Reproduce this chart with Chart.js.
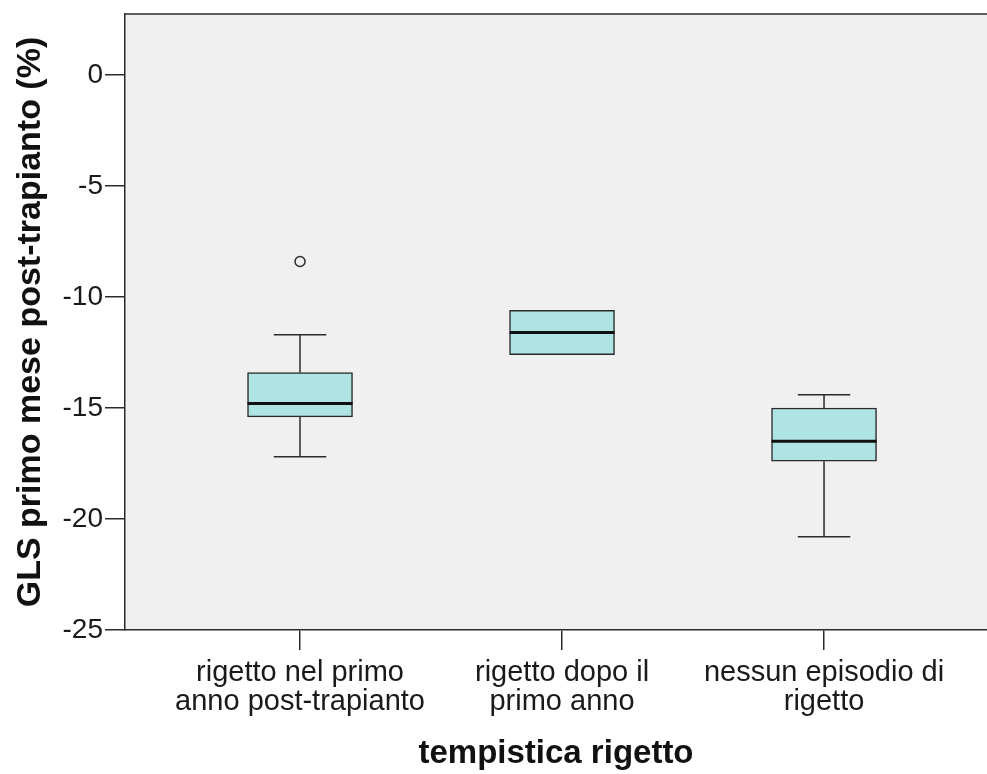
<!DOCTYPE html>
<html>
<head>
<meta charset="utf-8">
<script src="https://cdn.jsdelivr.net/npm/chart.js@4"></script>
<style>
  html, body { margin: 0; padding: 0; background: #fff; overflow: hidden; }
  #wrap { width: 987px; height: 774px; }
</style>
</head>
<body>
<div id="wrap"><canvas id="boxChart" width="987" height="774"></canvas></div>
<script>
  // categories (x positions 1..3) and their two-line tick labels
  const groups = [1, 2, 3];
  const groupLabels = [
    ['rigetto nel primo', 'anno post-trapianto'],
    ['rigetto dopo il', 'primo anno'],
    ['nessun episodio di', 'rigetto']
  ];

  // box plot stats (GLS %)
  const whiskerLow  = [-17.2, -12.6, -20.8];
  const q1          = [-15.4, -12.6, -17.4];
  const median      = [-14.8, -11.6, -16.5];
  const q3          = [-13.4, -10.6, -15.0];
  const whiskerHigh = [-11.7, -10.6, -14.4];

  const outlierGroup = [1];
  const outlierValue = [-8.4];

  const yTicks = [0, -5, -10, -15, -20, -25];

  const FONT = "'Liberation Sans', Arial, sans-serif";
  const INK = '#2b2b2b';
  const BOX_W = 105;

  const plotBackground = {
    id: 'plotBackground',
    beforeDraw(chart) {
      const { ctx, chartArea: a } = chart;
      ctx.save();
      ctx.fillStyle = '#f0f0f0';
      ctx.fillRect(a.left, a.top, a.right - a.left, a.bottom - a.top);
      ctx.restore();
    },
    afterDraw(chart) {
      const { ctx, chartArea: a } = chart;
      ctx.save();
      ctx.strokeStyle = INK;
      ctx.lineWidth = 1.5;
      ctx.beginPath();
      ctx.moveTo(a.left, a.top);
      ctx.lineTo(a.right, a.top);
      ctx.stroke();
      ctx.restore();
    }
  };

  // whiskers, caps and median line
  const boxExtras = {
    id: 'boxExtras',
    afterDatasetsDraw(chart) {
      const { ctx, scales: { x, y } } = chart;
      ctx.save();
      ctx.strokeStyle = INK;
      ctx.lineWidth = 1.5;
      groups.forEach((g, i) => {
        const cx = x.getPixelForValue(g);
        const cap = BOX_W / 4;
        const segs = [[whiskerHigh[i], q3[i]], [whiskerLow[i], q1[i]]];
        segs.forEach(([w, edge]) => {
          if (w === edge) return;
          const wy = y.getPixelForValue(w);
          ctx.beginPath();
          ctx.moveTo(cx, wy);
          ctx.lineTo(cx, y.getPixelForValue(edge));
          ctx.moveTo(cx - cap, wy);
          ctx.lineTo(cx + cap, wy);
          ctx.stroke();
        });
      });
      ctx.strokeStyle = '#111';
      ctx.lineWidth = 3;
      groups.forEach((g, i) => {
        const cx = x.getPixelForValue(g);
        const my = y.getPixelForValue(median[i]);
        ctx.beginPath();
        ctx.moveTo(cx - BOX_W / 2, my);
        ctx.lineTo(cx + BOX_W / 2, my);
        ctx.stroke();
      });
      ctx.restore();
    }
  };

  new Chart(document.getElementById('boxChart'), {
    type: 'bar',
    data: {
      datasets: [
        {
          label: 'box',
          data: groups.map((g, i) => ({ x: g, y: [q1[i], q3[i]] })),
          backgroundColor: '#afe4e4',
          borderColor: INK,
          borderWidth: 1.5,
          borderSkipped: false,
          barThickness: BOX_W
        },
        {
          type: 'scatter',
          label: 'outliers',
          data: outlierGroup.map((g, i) => ({ x: g, y: outlierValue[i] })),
          pointStyle: 'circle',
          pointRadius: 5,
          borderColor: INK,
          borderWidth: 1.5,
          backgroundColor: 'rgba(0,0,0,0)'
        }
      ]
    },
    options: {
      responsive: false,
      animation: false,
      layout: { autoPadding: false, padding: { top: 14, right: 0, bottom: 0, left: 0 } },
      plugins: {
        legend: { display: false },
        tooltip: { enabled: false }
      },
      scales: {
        x: {
          type: 'linear',
          offset: false,
          min: 0.332,
          max: 3.622,
          afterBuildTicks(scale) {
            scale.ticks = groups.map(v => ({ value: v }));
          },
          afterFit(scale) {
            scale.height = 144;
            scale.paddingLeft = 0;
            scale.paddingRight = 0;
          },
          grid: {
            offset: false,
            drawOnChartArea: false,
            drawTicks: true,
            tickLength: 20,
            color: INK,
            lineWidth: 1.5
          },
          border: { display: true, color: INK, width: 1.5 },
          ticks: {
            autoSkip: false,
            maxRotation: 0,
            padding: 8,
            color: '#1a1a1a',
            font: { family: FONT, size: 29, lineHeight: 1.0 },
            callback: (v) => groupLabels[groups.indexOf(v)]
          },
          title: {
            display: true,
            text: 'tempistica rigetto',
            color: '#111',
            padding: { top: 0, bottom: 0 },
            font: { family: FONT, size: 33, weight: 'bold', lineHeight: 1.2 }
          }
        },
        y: {
          min: -25,
          max: 2.75,
          afterBuildTicks(scale) {
            scale.ticks = yTicks.map(v => ({ value: v }));
          },
          afterFit(scale) {
            scale.width = 125;
            scale.paddingTop = 0;
            scale.paddingBottom = 0;
          },
          grid: {
            drawOnChartArea: false,
            drawTicks: true,
            tickLength: 20,
            color: INK,
            lineWidth: 1.5
          },
          border: { display: true, color: INK, width: 1.5 },
          ticks: {
            padding: 2,
            color: '#1a1a1a',
            font: { family: FONT, size: 28 },
            callback: (v) => String(v)
          },
          title: {
            display: true,
            text: 'GLS primo mese post-trapianto (%)',
            color: '#111',
            padding: { top: 10, bottom: 0 },
            font: { family: FONT, size: 34, weight: 'bold', lineHeight: 1.2 }
          }
        }
      }
    },
    plugins: [plotBackground, boxExtras]
  });
</script>
</body>
</html>
